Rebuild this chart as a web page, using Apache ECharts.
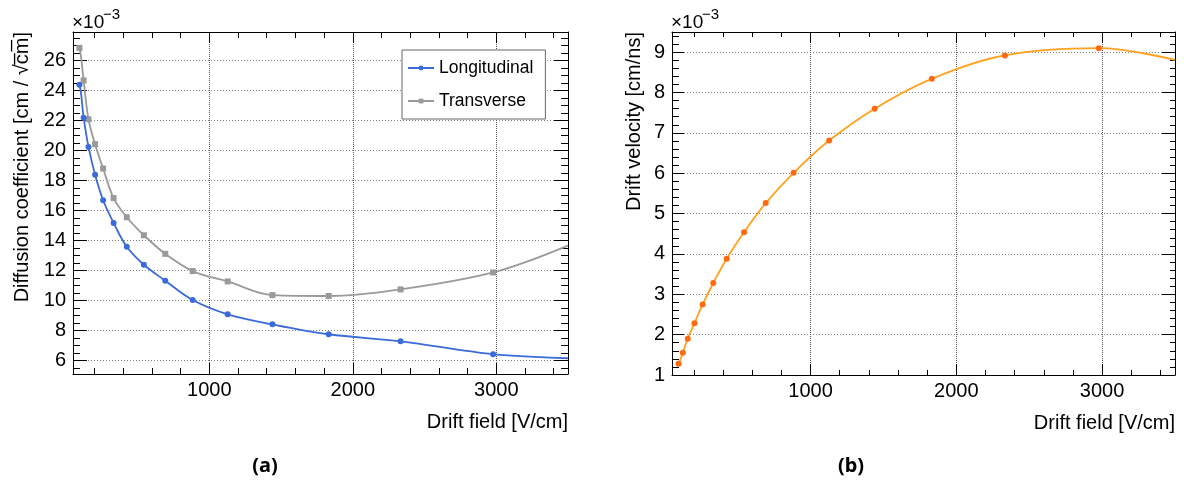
<!DOCTYPE html>
<html><head><meta charset="utf-8">
<script src="https://cdn.jsdelivr.net/npm/echarts@6/dist/echarts.min.js"></script>
<style>html,body{margin:0;padding:0;background:#fff}#c{width:1184px;height:482px}</style>
</head><body><div id="c"></div>
<script>
// ---- data (values in units of 1e-3) ----
const driftField = [95, 124, 158, 204, 260, 333, 425, 544, 693, 884, 1128, 1440, 1832, 2333, 2978];
const longitudinal = [24.39, 22.19, 20.24, 18.38, 16.68, 15.17, 13.58, 12.38, 11.32, 10.03, 9.08, 8.41, 7.75, 7.28, 6.42];
const transverse = [26.84, 24.67, 22.08, 20.42, 18.80, 16.83, 15.55, 14.35, 13.11, 11.96, 11.27, 10.36, 10.30, 10.74, 11.87];
const driftVelocity = [1.28, 1.55, 1.90, 2.28, 2.75, 3.28, 3.88, 4.54, 5.26, 6.01, 6.81, 7.60, 8.34, 8.92, 9.10];
// fitted-curve end points (curve continues beyond the measured points)
const curveField = [78, 3500];
const longitudinalCurveEnds = [24.42, 6.15];
const transverseCurveEnds = [26.88, 13.66];
const velocityCurveEnds = [1.26, 8.81];
// axes
const xTickLabels = [1000, 2000, 3000];
const xMinorTicks = [200, 400, 600, 800, 1200, 1400, 1600, 1800, 2200, 2400, 2600, 2800, 3200, 3400];
const diffTickLabels = [6, 8, 10, 12, 14, 16, 18, 20, 22, 24, 26];
const velTickLabels = [1, 2, 3, 4, 5, 6, 7, 8, 9];

function minorList(lo, hi, step, majors) {
  const out = [];
  for (let v = lo; v <= hi + 1e-9; v += step) {
    const r = Math.round(v * 100) / 100;
    if (majors.indexOf(r) < 0) out.push(r);
  }
  return out;
}
const diffMinorTicks = minorList(5.5, 27.5, 0.5, diffTickLabels);
const velMinorTicks = minorList(1.2, 9.4, 0.2, velTickLabels);

const FONT = 'Liberation Sans';
const grids = [], xAxes = [], yAxes = [];
const plain = v => String(v);

function addPanel(rect, xr, yr, xMaj, xMin, yMaj, yMin, tl) {
  const base = grids.length;
  for (let i = 0; i < 4; i++) grids.push(Object.assign({}, rect));
  const line = {show: true, lineStyle: {color: '#000', width: 1}};
  xAxes.push({type: 'value', gridIndex: base, position: 'bottom', min: xr[0], max: xr[1],
    axisLine: line, axisTick: {show: true, inside: true, length: tl.xb, customValues: xMaj, lineStyle: {color: '#000'}},
    axisLabel: {show: true, customValues: xMaj, formatter: plain, margin: 6, fontFamily: FONT, fontSize: 20, color: '#000'},
    splitLine: {show: true, lineStyle: {color: '#555', type: 'dotted', width: 1}}});
  yAxes.push({type: 'value', gridIndex: base, position: 'left', min: yr[0], max: yr[1],
    axisLine: line, axisTick: {show: true, inside: true, length: tl.yl, customValues: yMaj, lineStyle: {color: '#000'}},
    axisLabel: {show: true, customValues: yMaj, formatter: plain, margin: 7, fontFamily: FONT, fontSize: 20, color: '#000'},
    splitLine: {show: true, lineStyle: {color: '#888', type: [1, 2], width: 1}}});
  xAxes.push({type: 'value', gridIndex: base + 1, position: 'top', min: xr[0], max: xr[1],
    axisLine: line, axisTick: {show: true, inside: true, length: tl.xt, customValues: xMaj, lineStyle: {color: '#000'}},
    axisLabel: {show: false},
    splitLine: {show: true, lineStyle: {color: '#555', type: 'dotted', width: 1}}});
  yAxes.push({type: 'value', gridIndex: base + 1, position: 'right', min: yr[0], max: yr[1],
    axisLine: line, axisTick: {show: true, inside: true, length: tl.yr, customValues: yMaj, lineStyle: {color: '#000'}},
    axisLabel: {show: false}, splitLine: {show: false}});
  xAxes.push({type: 'value', gridIndex: base + 2, position: 'bottom', min: xr[0], max: xr[1],
    axisLine: {show: false}, axisTick: {show: true, inside: true, length: tl.xbm, customValues: xMin, lineStyle: {color: '#000'}},
    axisLabel: {show: false}, splitLine: {show: false}});
  yAxes.push({type: 'value', gridIndex: base + 2, position: 'left', min: yr[0], max: yr[1],
    axisLine: {show: false}, axisTick: {show: true, inside: true, length: tl.ylm, customValues: yMin, lineStyle: {color: '#000'}},
    axisLabel: {show: false}, splitLine: {show: false}});
  xAxes.push({type: 'value', gridIndex: base + 3, position: 'top', min: xr[0], max: xr[1],
    axisLine: {show: false}, axisTick: {show: true, inside: true, length: tl.xtm, customValues: xMin, lineStyle: {color: '#000'}},
    axisLabel: {show: false}, splitLine: {show: false}});
  yAxes.push({type: 'value', gridIndex: base + 3, position: 'right', min: yr[0], max: yr[1],
    axisLine: {show: false}, axisTick: {show: true, inside: true, length: tl.yrm, customValues: yMin, lineStyle: {color: '#000'}},
    axisLabel: {show: false}, splitLine: {show: false}});
  return base;
}

const pA = addPanel({left: 73, top: 32, width: 495, height: 342}, [50, 3500], [5.1, 27.9],
  xTickLabels, xMinorTicks, diffTickLabels, diffMinorTicks,
  {xb: 11, xbm: 6, yl: 14, ylm: 7, xt: 11, xtm: 6, yr: 14, yrm: 7});
const pB = addPanel({left: 672, top: 32, width: 503, height: 343}, [50, 3500], [1, 9.5],
  xTickLabels, xMinorTicks, velTickLabels, velMinorTicks,
  {xb: 11, xbm: 5, yl: 12, ylm: 7, xt: 11, xtm: 5, yr: 13, yrm: 5});

function curveData(ys, ends) {
  const d = [{value: [curveField[0], ends[0]], symbol: 'none'}];
  for (let i = 0; i < driftField.length; i++) d.push([driftField[i], ys[i]]);
  d.push({value: [curveField[1], ends[1]], symbol: 'none'});
  return d;
}

const series = [
  {name: 'Longitudinal', type: 'line', xAxisIndex: pA, yAxisIndex: pA, smooth: 0.35,
   data: curveData(longitudinal, longitudinalCurveEnds), symbol: 'circle', symbolSize: 6,
   lineStyle: {color: '#3a6bd8', width: 1.8}, itemStyle: {color: '#3a6bd8'}, z: 5},
  {name: 'Transverse', type: 'line', xAxisIndex: pA, yAxisIndex: pA, smooth: 0.35,
   data: curveData(transverse, transverseCurveEnds), symbol: 'rect', symbolSize: 6,
   lineStyle: {color: '#9a9a9a', width: 1.8}, itemStyle: {color: '#9a9a9a'}, z: 4},
  {name: 'Drift velocity', type: 'line', xAxisIndex: pB, yAxisIndex: pB, smooth: 0.35,
   data: curveData(driftVelocity, velocityCurveEnds), symbol: 'circle', symbolSize: 6,
   lineStyle: {color: '#ffa21f', width: 1.8}, itemStyle: {color: '#ff6a10'}, z: 4}
];

function txt(x, y, s, o) {
  return {type: 'text', x: x, y: y, rotation: o.rot || 0, z: 10,
    style: Object.assign({text: s, fontFamily: FONT, fontSize: 20, fill: '#000',
      align: 'left', verticalAlign: 'middle'}, o.style || {})};
}

const graphic = [
  txt(72, 23, '×10', {style: {fontSize: 19}}),
  txt(103, 15, '−3', {style: {fontSize: 15}}),
  txt(671, 23, '×10', {style: {fontSize: 19}}),
  txt(702, 15, '−3', {style: {fontSize: 15}}),
  txt(22, 32, 'Diffusion coefficient [cm / \u221Ac\u0305m\u0305]', {rot: Math.PI / 2, style: {align: 'right'}}),
  txt(634, 32, 'Drift velocity [cm/ns]', {rot: Math.PI / 2, style: {align: 'right'}}),
  txt(568, 422, 'Drift field [V/cm]', {style: {align: 'right'}}),
  txt(1175, 423, 'Drift field [V/cm]', {style: {align: 'right'}}),
  txt(265, 466, '(a)', {style: {align: 'center', fontFamily: 'Noto Sans', fontWeight: 'bold', fontSize: 20}}),
  txt(851, 466, '(b)', {style: {align: 'center', fontFamily: 'Noto Sans', fontWeight: 'bold', fontSize: 20}})
];

const chart = echarts.init(document.getElementById('c'), null, {renderer: 'canvas'});
chart.setOption({
  animation: false,
  backgroundColor: '#fff',
  grid: grids,
  xAxis: xAxes,
  yAxis: yAxes,
  legend: {data: ['Longitudinal', 'Transverse'], orient: 'vertical', left: 402, top: 50,
    itemWidth: 26, itemHeight: 6, itemGap: 15, padding: [9, 12, 9, 5],
    borderColor: '#666', borderWidth: 1, backgroundColor: '#fff', borderRadius: 0,
    textStyle: {fontFamily: FONT, fontSize: 17.5, color: '#000', lineHeight: 17}},
  series: series,
  graphic: graphic
});
</script></body></html>
